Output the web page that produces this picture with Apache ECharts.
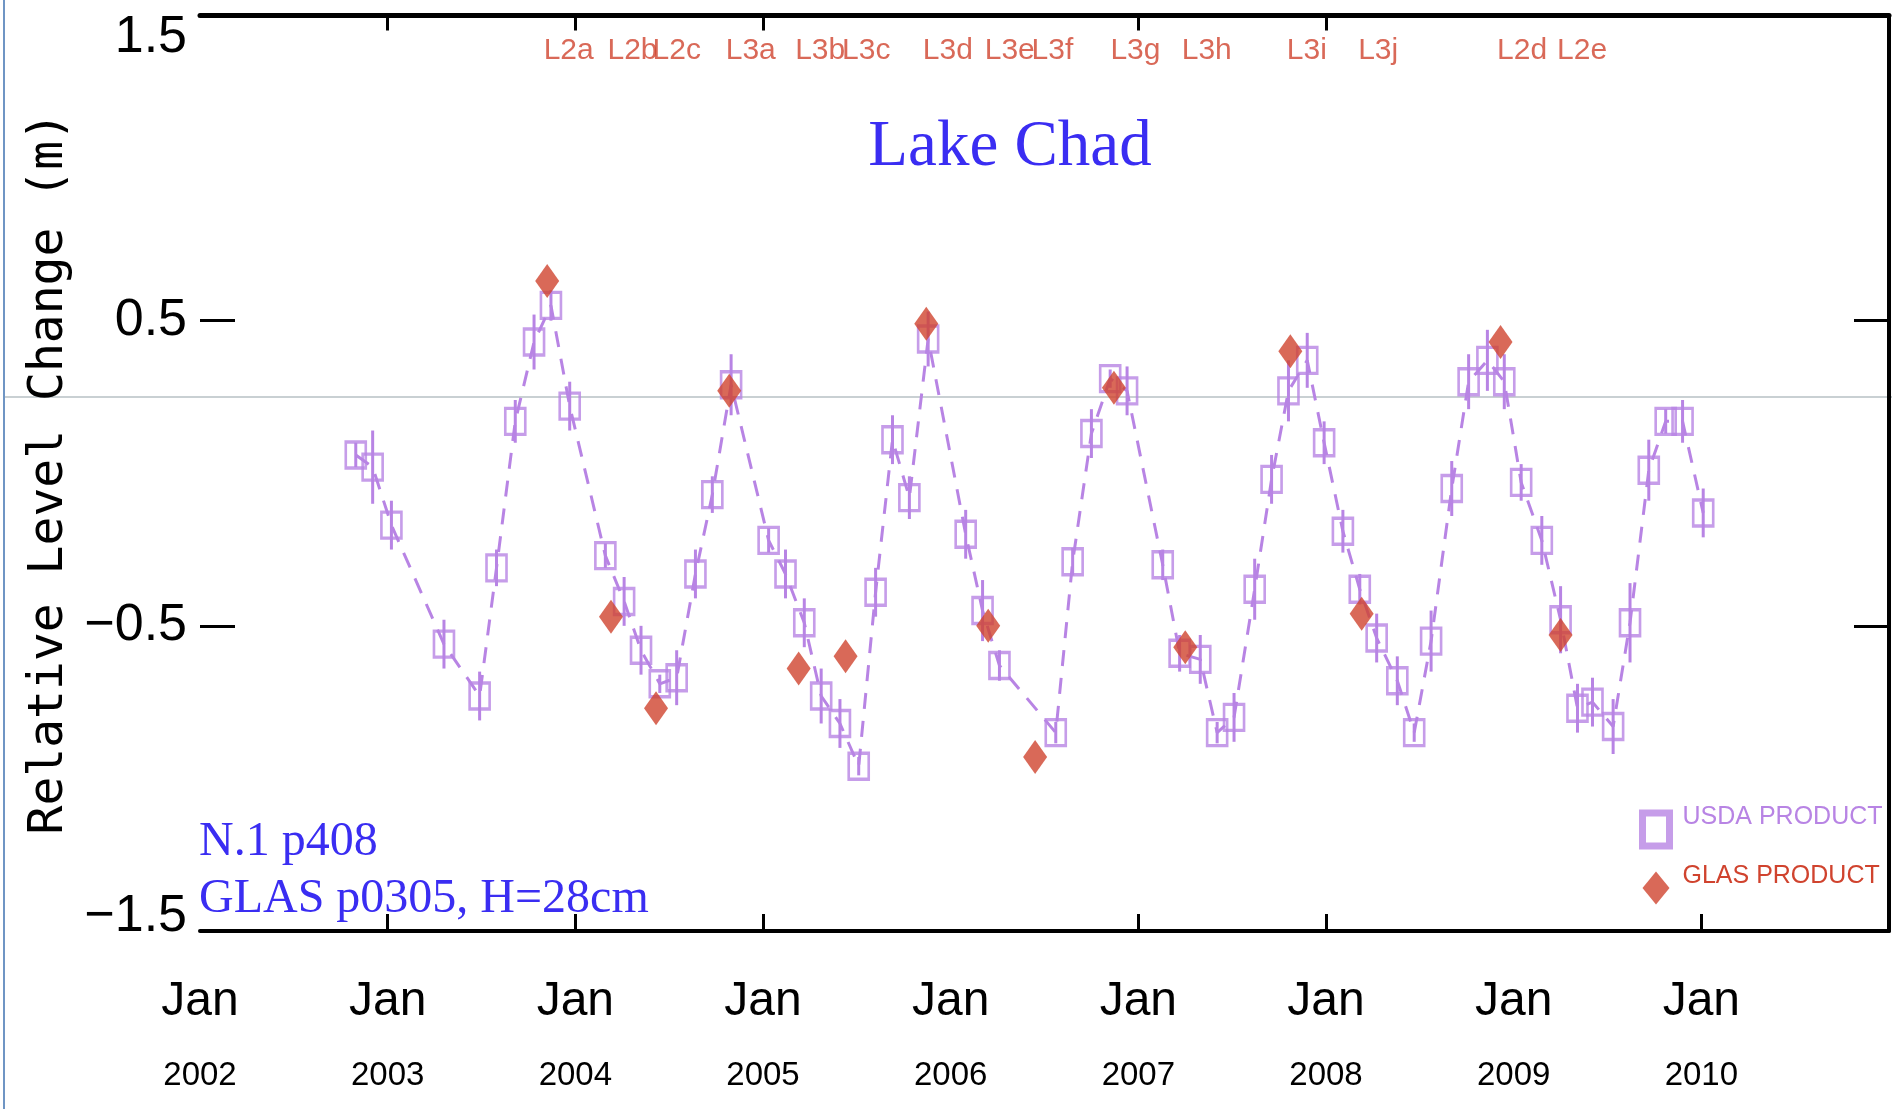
<!DOCTYPE html>
<html>
<head>
<meta charset="utf-8">
<title>Lake Chad</title>
<script src="https://cdn.jsdelivr.net/npm/echarts@6/dist/echarts.min.js"></script>
<style>
  html, body { margin: 0; padding: 0; background: #ffffff; }
  #chart { width: 1892px; height: 1109px; }
</style>
</head>
<body>
<div id="chart"></div>
<script>
// Axis ticks and labels
const xYears = [2002, 2003, 2004, 2005, 2006, 2007, 2008, 2009, 2010];
const monthLabel = 'Jan';
const yTickValues = [-1.5, -0.5, 0.5, 1.5];

// USDA altimetry product: decimal year, relative level (m), half error bar (m)
const usdaDates = [2002.83, 2002.92, 2003.02, 2003.30, 2003.49, 2003.58, 2003.68, 2003.78, 2003.87, 2003.97,
  2004.16, 2004.26, 2004.35, 2004.45, 2004.54, 2004.64, 2004.73, 2004.83, 2005.03, 2005.12,
  2005.22, 2005.31, 2005.41, 2005.51, 2005.60, 2005.69, 2005.78, 2005.88, 2006.08, 2006.17,
  2006.26, 2006.56, 2006.65, 2006.75, 2006.85, 2006.94, 2007.13, 2007.22, 2007.33, 2007.42,
  2007.51, 2007.62, 2007.71, 2007.80, 2007.90, 2007.99, 2008.09, 2008.18, 2008.27, 2008.38,
  2008.47, 2008.56, 2008.67, 2008.76, 2008.86, 2008.95, 2009.04, 2009.15, 2009.25, 2009.34,
  2009.42, 2009.53, 2009.62, 2009.72, 2009.81, 2009.90, 2010.01];
const usdaLevels = [0.06, 0.02, -0.17, -0.56, -0.73, -0.31, 0.17, 0.43, 0.55, 0.22,
  -0.27, -0.42, -0.58, -0.69, -0.67, -0.33, -0.07, 0.29, -0.22, -0.33,
  -0.49, -0.73, -0.82, -0.96, -0.39, 0.11, -0.08, 0.44, -0.20, -0.45,
  -0.63, -0.85, -0.29, 0.13, 0.31, 0.27, -0.30, -0.59, -0.61, -0.85,
  -0.80, -0.38, -0.02, 0.27, 0.37, 0.10, -0.19, -0.38, -0.54, -0.68,
  -0.85, -0.55, -0.05, 0.30, 0.37, 0.30, -0.03, -0.22, -0.48, -0.77,
  -0.75, -0.83, -0.49, 0.01, 0.17, 0.17, -0.13];
const usdaErrors = [0.04, 0.12, 0.08, 0.08, 0.08, 0.06, 0.07, 0.09, 0.05, 0.08,
  0.04, 0.08, 0.08, 0.03, 0.09, 0.08, 0.06, 0.10, 0.04, 0.08,
  0.08, 0.09, 0.08, 0.03, 0.08, 0.08, 0.07, 0.09, 0.08, 0.10,
  0.05, 0.035, 0.045, 0.08, 0.03, 0.08, 0.05, 0.06, 0.08, 0.035,
  0.08, 0.10, 0.08, 0.10, 0.09, 0.07, 0.07, 0.05, 0.08, 0.08,
  0.03, 0.10, 0.09, 0.09, 0.10, 0.09, 0.06, 0.08, 0.11, 0.08,
  0.08, 0.09, 0.13, 0.10, 0.04, 0.07, 0.08];

// ICESat GLAS laser campaigns and the lake level from each
const campaigns = ['L2a', 'L2b', 'L2c', 'L3a', 'L3b', 'L3c', 'L3d', 'L3e', 'L3f', 'L3g', 'L3h', 'L3i', 'L3j', 'L2d', 'L2e'];
const glasDates = [2003.85, 2004.19, 2004.43, 2004.82, 2005.19, 2005.44, 2005.87, 2006.20, 2006.45, 2006.87, 2007.25, 2007.81, 2008.19, 2008.93, 2009.25];
const glasLevels = [0.63, -0.47, -0.77, 0.27, -0.64, -0.60, 0.49, -0.50, -0.93, 0.28, -0.57, 0.40, -0.46, 0.43, -0.53];

const PURPLE = '#b884e4';
const RED = '#d0432e';
const BLUE = '#3a2df2';
const SANS = "'Liberation Sans',Arial,sans-serif";
const SERIF = "'Liberation Serif','Times New Roman',serif";

const chart = echarts.init(document.getElementById('chart'));

const yLabelText = v => (v < 0 ? '\u2212' : '') + Math.abs(v).toFixed(1);

chart.setOption({
  animation: false,
  backgroundColor: '#ffffff',
  grid: { left: 200, right: 3, top: 15.5, bottom: 178, containLabel: false },
  xAxis: [
    {
      type: 'value', position: 'bottom', min: 2002, max: 2011,
      axisLine: { show: true, onZero: false, lineStyle: { color: '#000', width: 4 } },
      axisTick: { show: true, inside: true, length: 17, lineStyle: { color: '#000', width: 3 },
        customValues: [2003, 2004, 2005, 2007, 2008, 2010] },
      axisLabel: {
        show: true, customValues: xYears, margin: 36, color: '#000', fontFamily: SANS,
        formatter: v => '{m|' + monthLabel + '}\n{y|' + v + '}',
        rich: {
          m: { fontSize: 48, lineHeight: 70, fontFamily: SANS, color: '#000' },
          y: { fontSize: 33, lineHeight: 78, fontFamily: SANS, color: '#000' }
        }
      },
      splitLine: { show: false }
    },
    {
      type: 'value', position: 'top', min: 2002, max: 2011,
      axisLine: { show: true, onZero: false, lineStyle: { color: '#000', width: 5 } },
      axisTick: { show: true, inside: true, length: 15, lineStyle: { color: '#000', width: 3 },
        customValues: [2003, 2004, 2005, 2007, 2008] },
      axisLabel: { show: false },
      splitLine: { show: false }
    }
  ],
  yAxis: [
    {
      type: 'value', position: 'left', min: -1.5, max: 1.5,
      name: 'Relative Level Change (m)', nameLocation: 'middle', nameRotate: 90, nameGap: 122,
      nameTextStyle: { fontFamily: "'DejaVu Sans Mono',monospace", fontSize: 48, color: '#000' },
      axisLine: { show: false },
      axisTick: { show: true, inside: true, length: 35, lineStyle: { color: '#000', width: 3 },
        customValues: [-0.5, 0.5] },
      axisLabel: {
        show: true, customValues: yTickValues, margin: 13, color: '#000', fontFamily: SANS, fontSize: 52,
        formatter: v => {
          const s = yLabelText(v);
          if (v === yTickValues[yTickValues.length - 1]) return '{hi|' + s + '}';
          if (v === yTickValues[0]) return '{lo|' + s + '}';
          return '{n|' + s + '}';
        },
        rich: {
          n: { fontSize: 52, fontFamily: SANS, color: '#000' },
          hi: { fontSize: 52, fontFamily: SANS, color: '#000', padding: [44, 0, 0, 0] },
          lo: { fontSize: 52, fontFamily: SANS, color: '#000', padding: [0, 0, 28, 0] }
        }
      },
      splitLine: { show: false }
    },
    {
      type: 'value', position: 'right', min: -1.5, max: 1.5,
      axisLine: { show: true, onZero: false, lineStyle: { color: '#000', width: 4 } },
      axisTick: { show: true, inside: true, length: 35, lineStyle: { color: '#000', width: 3 },
        customValues: [-0.5, 0.5] },
      axisLabel: { show: false },
      splitLine: { show: false }
    }
  ],
  legend: {
    orient: 'vertical', left: 1634, top: 800, itemWidth: 27, itemHeight: 33, itemGap: 14,
    selectedMode: false,
    formatter: n => '{t|' + n + '}',
    textStyle: { fontFamily: SANS, fontSize: 25,
      rich: { t: { fontFamily: SANS, fontSize: 25, padding: [0, 0, 24, 8] } } },
    data: [
      { name: 'USDA PRODUCT', icon: 'rect', itemStyle: { color: 'rgba(0,0,0,0)', borderColor: PURPLE, borderWidth: 7 },
        textStyle: { color: PURPLE } },
      { name: 'GLAS PRODUCT', icon: 'diamond', itemStyle: { color: RED }, textStyle: { color: RED } }
    ]
  },
  graphic: [
    { type: 'line', z: -10, silent: true, shape: { x1: 4, y1: 397, x2: 1892, y2: 397 },
      style: { stroke: '#c9d0d3', lineWidth: 2 } },
    { type: 'line', z: -10, silent: true, shape: { x1: 4, y1: 0, x2: 4, y2: 1109 },
      style: { stroke: '#6f95c4', lineWidth: 2 } },
    { type: 'text', x: 1010, y: 148, silent: true,
      style: { text: 'Lake Chad', fill: BLUE, font: '65px ' + SERIF, textAlign: 'center', textVerticalAlign: 'middle', align: 'center', verticalAlign: 'middle' } },
    { type: 'text', x: 199, y: 842, silent: true,
      style: { text: 'N.1 p408', fill: BLUE, font: '48px ' + SERIF, textAlign: 'left', textVerticalAlign: 'middle', align: 'left', verticalAlign: 'middle' } },
    { type: 'text', x: 199, y: 899, silent: true,
      style: { text: 'GLAS p0305, H=28cm', fill: BLUE, font: '48px ' + SERIF, textAlign: 'left', textVerticalAlign: 'middle', align: 'left', verticalAlign: 'middle' } }
  ],
  series: [
    {
      name: 'USDA series line', type: 'line', z: 2, silent: true,
      data: usdaDates.map((d, i) => [d, usdaLevels[i]]),
      showSymbol: false, symbol: 'none',
      lineStyle: { color: PURPLE, width: 3, type: [16, 12] }
    },
    {
      name: 'USDA error', type: 'custom', z: 3, silent: true,
      data: usdaDates.map((d, i) => [d, usdaLevels[i], usdaErrors[i]]),
      encode: { x: 0, y: 1 },
      renderItem: (params, api) => {
        const x = api.value(0), v = api.value(1), e = api.value(2);
        const top = api.coord([x, v + e]);
        const bot = api.coord([x, v - e]);
        return { type: 'line', shape: { x1: top[0], y1: top[1], x2: bot[0], y2: bot[1] },
          style: { stroke: PURPLE, lineWidth: 3 } };
      }
    },
    {
      name: 'USDA PRODUCT', type: 'scatter', z: 4, silent: true,
      data: usdaDates.map((d, i) => [d, usdaLevels[i]]),
      symbol: 'rect', symbolSize: [20, 26],
      itemStyle: { color: 'rgba(0,0,0,0)', borderColor: PURPLE, borderWidth: 3 }
    },
    {
      name: 'GLAS PRODUCT', type: 'scatter', z: 6, silent: true,
      data: glasDates.map((d, i) => [d, glasLevels[i]]),
      symbol: 'diamond', symbolSize: [24, 34],
      itemStyle: { color: RED }
    },
    {
      name: 'campaigns', type: 'scatter', z: 7, silent: true,
      data: glasDates.map((d, i) => [d, 1.5, campaigns[i]]),
      symbolSize: 1, itemStyle: { color: 'rgba(0,0,0,0)' },
      label: { show: true, formatter: p => p.data[2], position: [-3, 36], align: 'left', verticalAlign: 'middle',
        color: RED, fontSize: 30, fontFamily: SANS }
    }
  ]
});
</script>
</body>
</html>
